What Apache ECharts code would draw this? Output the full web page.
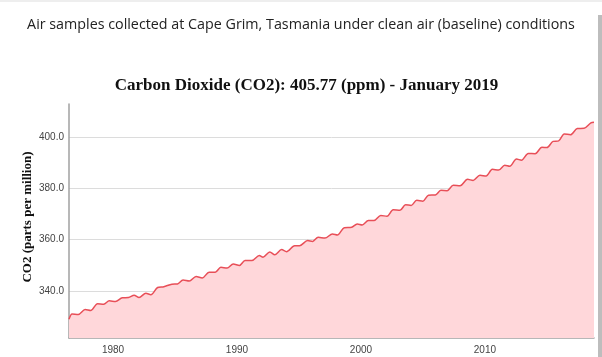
<!DOCTYPE html>
<html>
<head>
<meta charset="utf-8">
<script src="https://cdn.jsdelivr.net/npm/echarts@6/dist/echarts.min.js"></script>
<style>
html,body{margin:0;padding:0;background:#fff;}
#main{width:602px;height:357px;}
</style>
</head>
<body>
<div id="main"></div>
<script>
// Time (decimal year) of each reading
var years = [
1976.45,1976.7,1977.2,1977.75,1978.2,1978.75,1979.25,1979.7,1980.2,1980.75,
1981.25,1981.7,1982.1,1982.65,1983.05,1983.6,1984.1,1984.75,1985.2,1985.65,
1986.15,1986.7,1987.2,1987.75,1988.25,1988.7,1989.2,1989.7,1990.2,1990.65,
1991.2,1991.8,1992.1,1992.65,1993.05,1993.6,1994.0,1994.65,1995.05,1995.7,
1996.1,1996.55,1997.1,1997.7,1998.1,1998.65,1999.25,1999.7,2000.1,2000.6,
2001.05,2001.6,2002.1,2002.6,2003.15,2003.6,2004.05,2004.5,2005.0,2005.45,
2006.0,2006.45,2006.95,2007.45,2008.0,2008.6,2009.05,2009.6,2010.1,2010.6,
2011.1,2011.6,2012.0,2012.55,2012.95,2013.5,2014.05,2014.6,2015.0,2015.5,
2015.95,2016.4,2016.9,2017.45,2018.0,2018.55,2018.8
];
// CO2 concentration (ppm)
var co2 = [
328.9,331.0,330.8,332.7,332.3,335.0,334.8,336.1,335.8,337.3,
337.4,338.3,337.4,339.1,338.5,341.3,341.6,342.6,342.7,344.2,
343.8,345.6,345.0,347.3,347.3,349.2,348.9,350.5,349.9,351.8,
351.8,353.8,353.1,355.2,354.1,356.1,355.3,357.6,357.6,359.6,
359.3,360.9,360.6,362.2,361.8,364.6,364.8,366.1,365.7,367.4,
367.4,369.4,369.1,371.6,371.4,373.6,373.3,375.3,375.0,377.3,
377.4,379.2,379.1,381.2,381.0,383.5,383.1,385.1,384.8,387.4,
387.1,389.0,388.6,391.4,391.0,393.6,393.5,396.0,395.9,398.3,
398.5,401.2,400.9,403.3,403.4,405.5,405.77
];
var yTicks = [340, 360, 380, 400];
var xTicks = [1980, 1990, 2000, 2010];
var pageTitle = 'Air samples collected at Cape Grim, Tasmania under clean air (baseline) conditions';
var chartTitle = 'Carbon Dioxide (CO2): 405.77 (ppm) - January 2019';
var yName = 'CO2 (parts per million)';

var data = years.map(function (y, i) { return [y, co2[i]]; });

var chart = echarts.init(document.getElementById('main'), null, {renderer: 'canvas'});
chart.setOption({
  animation: false,
  backgroundColor: '#fff',
  graphic: [
    {type: 'rect', shape: {x: 598, y: 15, width: 4, height: 342}, style: {fill: '#bdbdbd'}, silent: true},
    {type: 'rect', shape: {x: 0, y: 0, width: 602, height: 2}, style: {fill: '#eeeeee'}, silent: true},
    {type: 'text', x: 301, y: 25, silent: true,
      style: {text: pageTitle, align: 'center', verticalAlign: 'middle',
        font: 'normal 14.3px "Open Sans"', fill: '#222'}},
    {type: 'text', x: 306.5, y: 86, silent: true,
      style: {text: chartTitle, align: 'center', verticalAlign: 'middle',
        font: 'bold 17px "Liberation Serif"', fill: '#111'}},
    {type: 'text', x: 28, y: 217, rotation: Math.PI / 2, silent: true,
      style: {text: yName, align: 'center', verticalAlign: 'middle',
        font: 'bold 13px "Liberation Serif"', fill: '#111'}}
  ],
  grid: {left: 69, right: 8, top: 104, bottom: 19, containLabel: false},
  xAxis: {
    type: 'value',
    min: 1976.45,
    max: 2018.8,
    axisLine: {show: true, lineStyle: {color: '#a0a0a0', width: 1.5}},
    axisTick: {show: false, customValues: xTicks},
    splitLine: {show: false},
    axisLabel: {
      customValues: xTicks,
      fontFamily: 'Liberation Sans', fontSize: 10, color: '#444', margin: 7,
      formatter: function (v) { return String(Math.round(v)); }
    }
  },
  yAxis: {
    type: 'value',
    min: 321.6,
    max: 412.9,
    axisLine: {show: true, lineStyle: {color: '#a0a0a0', width: 1.5}},
    axisTick: {show: false, customValues: yTicks},
    splitLine: {show: true, lineStyle: {color: '#dcdcdc', width: 1}},
    axisLabel: {
      customValues: yTicks,
      fontFamily: 'Liberation Sans', fontSize: 10, color: '#444', margin: 5,
      formatter: function (v) { return v.toFixed(1); }
    }
  },
  series: [{
    type: 'line',
    data: data,
    showSymbol: false,
    smooth: 0.3,
    lineStyle: {color: '#e84f58', width: 1.5},
    areaStyle: {color: '#ffd7da', opacity: 1}
  }]
});
</script>
</body>
</html>
